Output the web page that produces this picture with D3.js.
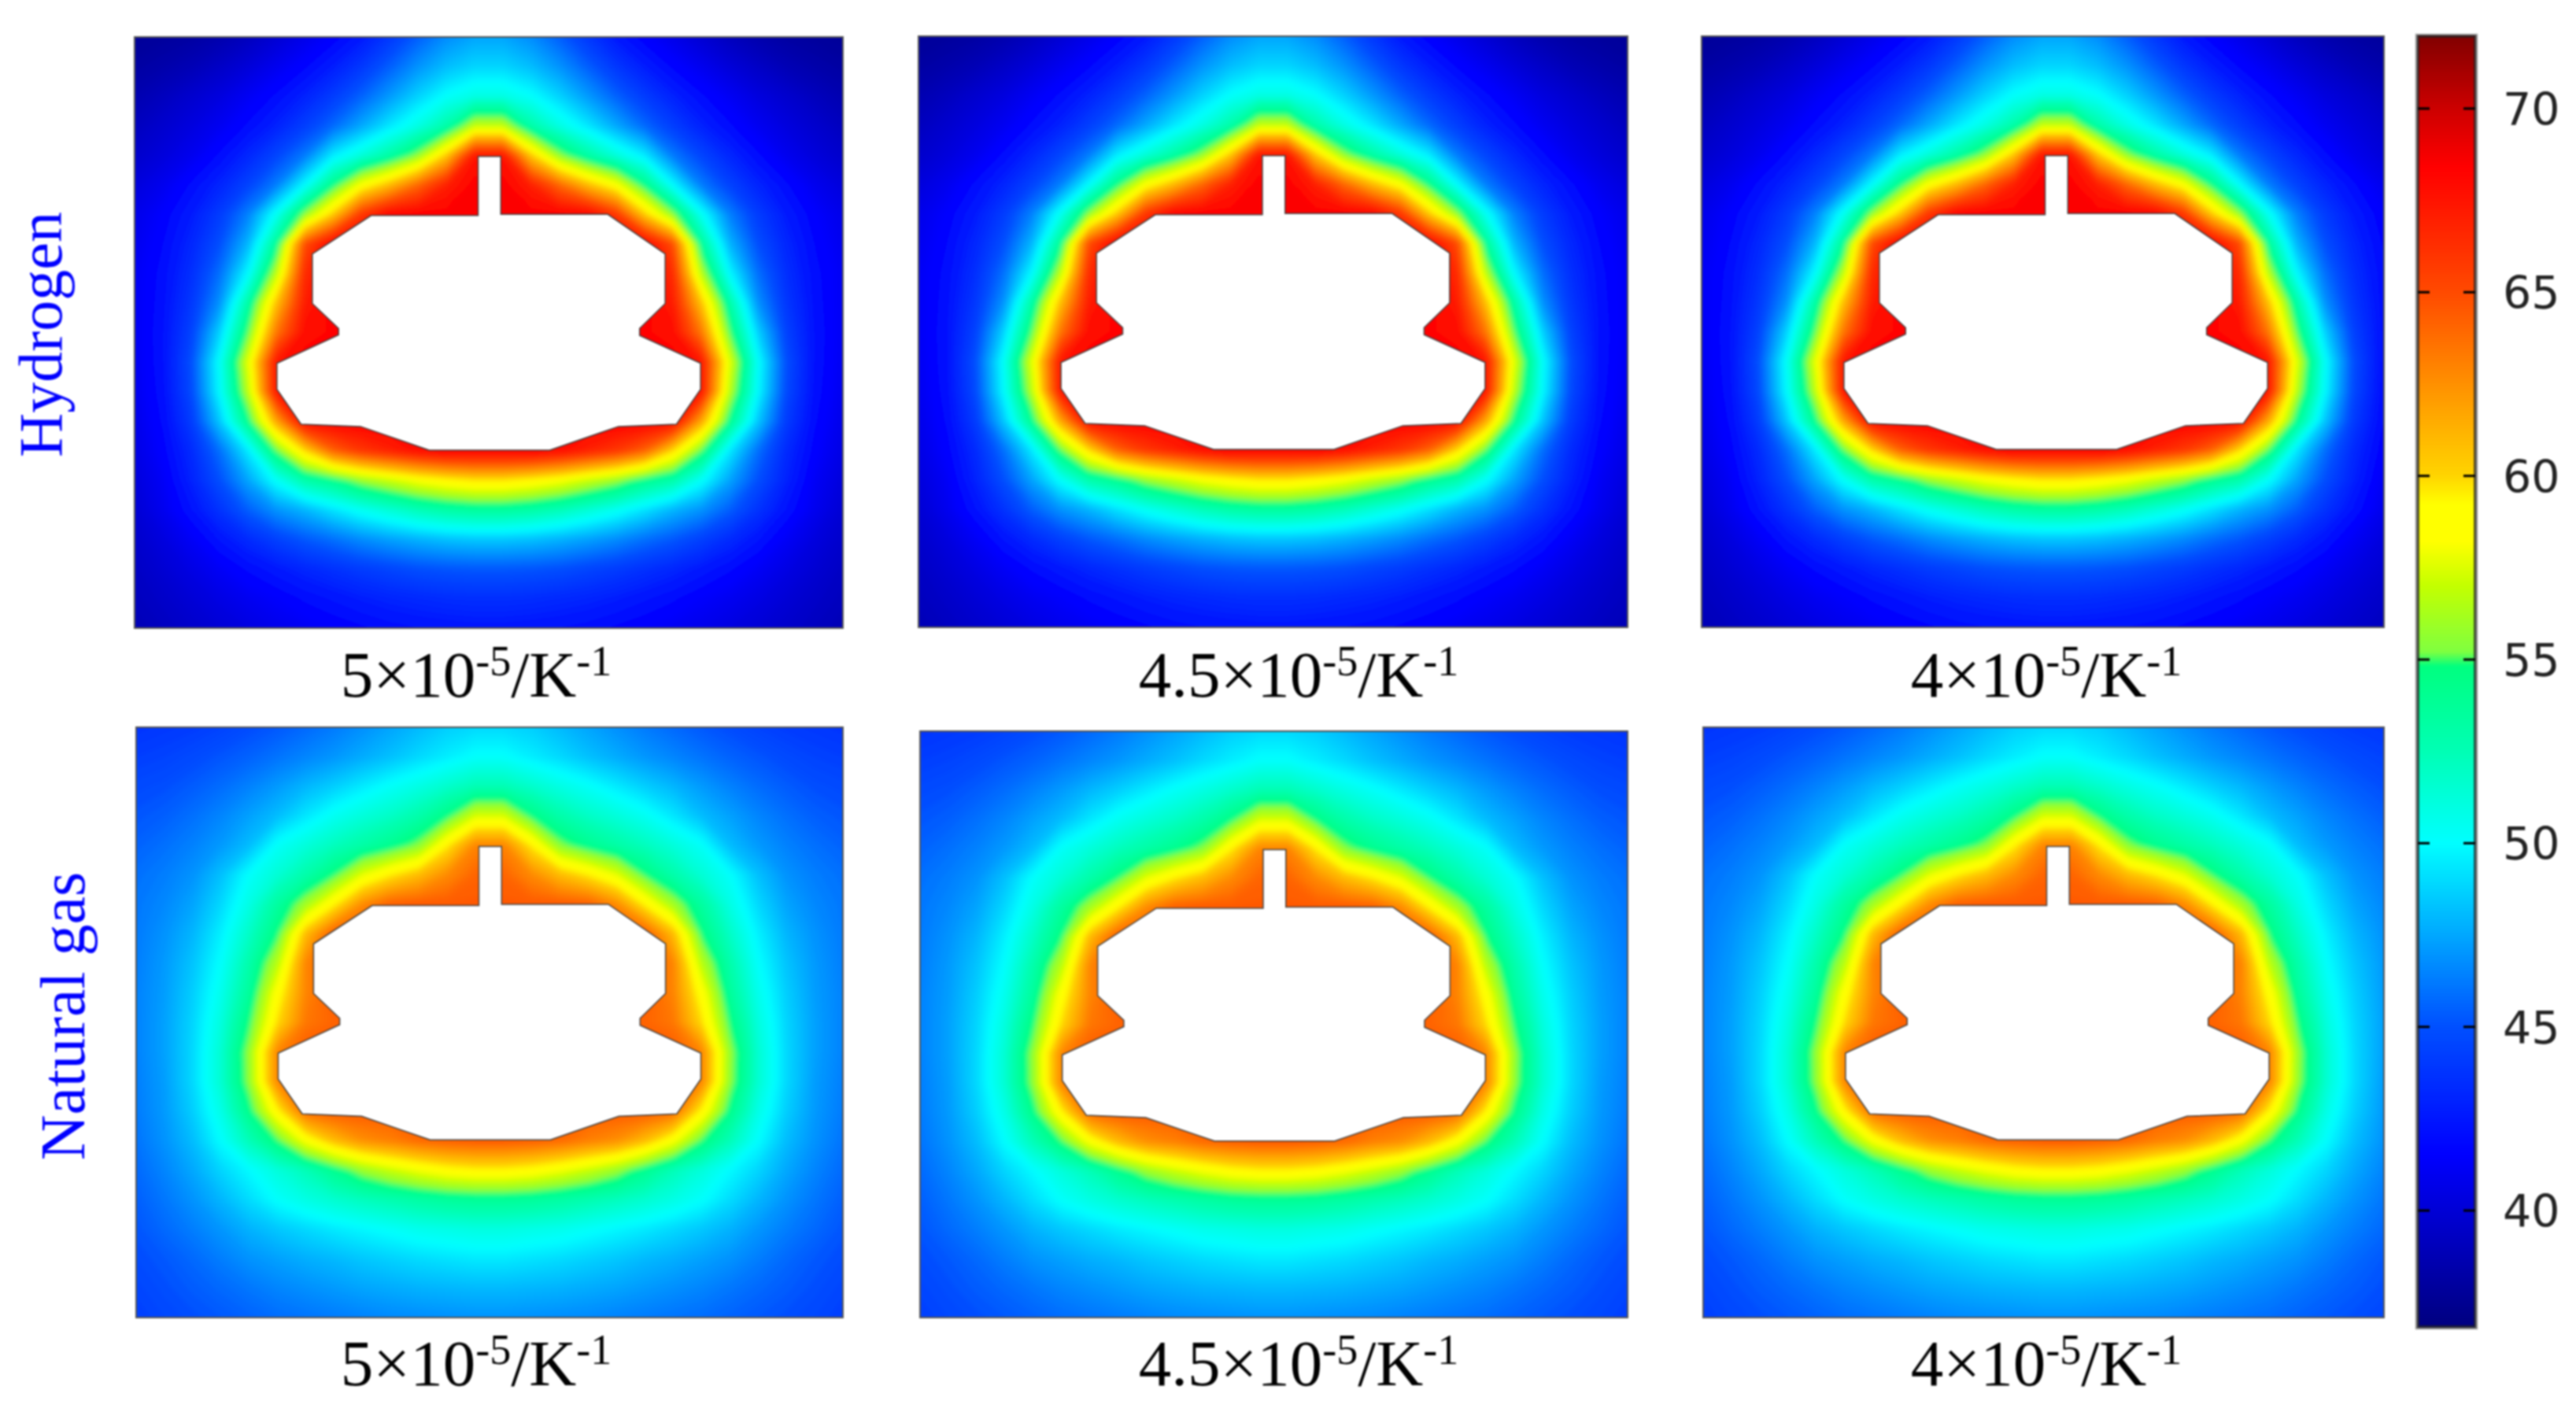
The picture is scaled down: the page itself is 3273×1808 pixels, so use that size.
<!DOCTYPE html>
<html>
<head>
<meta charset="utf-8">
<script src="https://cdn.jsdelivr.net/npm/d3@7"></script>
<style>
html, body { margin: 0; padding: 0; background: #fff; }
svg { display: block; filter: blur(0.8px); }
</style>
</head>
<body>
<div id="chart"></div>
<script>
// grid positions in percent of the panel width / height
var gridX = [0,4,8,12,16,20,24,28,32,36,40,44,48,52,56,60,64,68,72,76,80,84,88,92,96,100];
var gridY = [0,5,10,15,20,25,30,35,40,45,50,55,60,65,70,75,80,85,90,95,100];

// temperature, one row per gridY
var hydrogenField = [
[37.8,38,38.2,38.6,39.2,40,40.8,41.6,42.6,44,45.5,46.8,47.5,47.5,46.8,45.5,44,42.6,41.6,40.8,40,39.2,38.6,38.2,38,37.8],
[38.2,38.5,38.9,39.5,40.2,41,41.8,42.8,44,45.5,47,48.2,48.9,48.9,48.2,47,45.5,44,42.8,41.8,41,40.2,39.5,38.9,38.5,38.2],
[38.7,39.2,39.8,40.4,41.2,42,43,44.2,45.6,47.2,48.8,50.2,51,51,50.2,48.8,47.2,45.6,44.2,43,42,41.2,40.4,39.8,39.2,38.7],
[39.2,39.8,40.4,41.1,42,43,44.3,45.8,47.6,49.4,51,53,57,57,53,51,49.4,47.6,45.8,44.3,43,42,41.1,40.4,39.8,39.2],
[39.7,40.3,41,42,43.2,44.6,46.3,49.5,51.3,53.2,55.8,60.5,67.5,67.5,60.5,55.8,53.2,51.3,49.5,46.3,44.6,43.2,42,41,40.3,39.7],
[40.3,41,42,43.1,44.5,46.4,50,54.3,58.5,61,64,67,68.6,68.6,67,64,61,58.5,54.3,50,46.4,44.5,43.1,42,41,40.3],
[40.8,41.6,42.7,44.2,46.5,50.5,55.8,60.5,66,68.4,68.6,68.6,68.6,68.6,68.6,68.6,68.4,66,60.5,55.8,50.5,46.5,44.2,42.7,41.6,40.8],
[41,41.9,43.2,45,48,53.8,65,68.6,68.6,68.6,68.6,68.6,68.6,68.6,68.6,68.6,68.6,68.6,68.6,65,53.8,48,45,43.2,41.9,41],
[41.2,42.1,43.6,46,50,56.8,66.5,68.6,68.6,68.6,68.6,68.6,68.6,68.6,68.6,68.6,68.6,68.6,68.6,66.5,56.8,50,46,43.6,42.1,41.2],
[41.2,42.2,44,47,53.2,60.8,67.2,68.6,68.6,68.6,68.6,68.6,68.6,68.6,68.6,68.6,68.6,68.6,68.6,67.2,60.8,53.2,47,44,42.2,41.2],
[41.2,42.3,44.5,48.8,55.2,63.5,68,68.4,68.6,68.6,68.6,68.6,68.6,68.6,68.6,68.6,68.6,68.6,68.4,68,63.5,55.2,48.8,44.5,42.3,41.2],
[41.1,42.3,45,50.3,57.8,67.5,68.6,68.6,68.6,68.6,68.6,68.6,68.6,68.6,68.6,68.6,68.6,68.6,68.6,68.6,67.5,57.8,50.3,45,42.3,41.1],
[41,42.2,44.8,50,56.8,67.5,68.6,68.6,68.6,68.6,68.6,68.6,68.6,68.6,68.6,68.6,68.6,68.6,68.6,68.6,67.5,56.8,50,44.8,42.2,41],
[40.8,42,44.2,48.5,54.2,61.8,68.2,68.6,68.6,68.6,68.6,68.6,68.6,68.6,68.6,68.6,68.6,68.6,68.6,68.2,61.8,54.2,48.5,44.2,42,40.8],
[40.6,41.7,43.4,46,49.5,55.2,60,64.2,66,67,68,68.6,68.6,68.6,68.6,68,67,66,64.2,60,55.2,49.5,46,43.4,41.7,40.6],
[40.3,41.3,43,45,47.5,50.3,53,54.2,56,57.2,58.4,59.2,59.8,59.8,59.2,58.4,57.2,56,54.2,53,50.3,47.5,45,43,41.3,40.3],
[40,41,42.3,43.8,45.5,47,48,49.3,50.5,51.5,52.5,53.2,53.6,53.6,53.2,52.5,51.5,50.5,49.3,48,47,45.5,43.8,42.3,41,40],
[39.7,40.4,41.3,42.4,43.4,44.4,45.3,46,46.8,47.4,47.9,48.3,48.5,48.5,48.3,47.9,47.4,46.8,46,45.3,44.4,43.4,42.4,41.3,40.4,39.7],
[39.4,40,40.6,41.3,42,42.6,43.2,43.7,44.2,44.6,45,45.2,45.3,45.3,45.2,45,44.6,44.2,43.7,43.2,42.6,42,41.3,40.6,40,39.4],
[39.2,39.6,40.1,40.6,41.1,41.5,42,42.4,42.8,43.1,43.3,43.5,43.6,43.6,43.5,43.3,43.1,42.8,42.4,42,41.5,41.1,40.6,40.1,39.6,39.2],
[38.9,39.3,39.7,40.1,40.5,40.9,41.2,41.5,41.8,42.1,42.3,42.4,42.5,42.5,42.4,42.3,42.1,41.8,41.5,41.2,40.9,40.5,40.1,39.7,39.3,38.9]
];

// temperature
var gasField = [
[43.8,44,44.2,44.5,44.9,45.3,45.8,46.3,46.9,47.5,48.1,48.7,49,49,48.7,48.1,47.5,46.9,46.3,45.8,45.3,44.9,44.5,44.2,44,43.8],
[44.3,44.5,44.8,45.2,45.6,46.1,46.6,47.1,47.7,48.3,49,49.6,50.2,50.2,49.6,49,48.3,47.7,47.1,46.6,46.1,45.6,45.2,44.8,44.5,44.3],
[44.8,45,45.4,45.9,46.5,47.2,48,48.7,49.5,50.3,51,51.8,52.6,52.6,51.8,51,50.3,49.5,48.7,48,47.2,46.5,45.9,45.4,45,44.8],
[45.2,45.5,46,46.6,47.4,48.2,49.4,50.5,51.3,52,53,54.6,57.5,57.5,54.6,53,52,51.3,50.5,49.4,48.2,47.4,46.6,46,45.5,45.2],
[45.6,46,46.5,47.2,48.2,50.3,51.3,52.3,53.2,54.2,55.6,59.5,63,63,59.5,55.6,54.2,53.2,52.3,51.3,50.3,48.2,47.2,46.5,46,45.6],
[46,46.4,47,48.3,50.2,51.5,53,54.9,57.8,59.6,61,62.8,64.2,64.2,62.8,61,59.6,57.8,54.9,53,51.5,50.2,48.3,47,46.4,46],
[46.2,46.7,47.5,49,51,53.5,56.2,59.4,62.8,64.4,64.6,64.6,64.6,64.6,64.6,64.6,64.4,62.8,59.4,56.2,53.5,51,49,47.5,46.7,46.2],
[46.3,47,48,49.7,52,54.8,61,64.6,64.6,64.6,64.6,64.6,64.6,64.6,64.6,64.6,64.6,64.6,64.6,61,54.8,52,49.7,48,47,46.3],
[46.4,47.2,48.4,50.2,53,56.8,63,64.6,64.6,64.6,64.6,64.6,64.6,64.6,64.6,64.6,64.6,64.6,64.6,63,56.8,53,50.2,48.4,47.2,46.4],
[46.5,47.3,48.7,50.7,53.7,58.8,63,64.6,64.6,64.6,64.6,64.6,64.6,64.6,64.6,64.6,64.6,64.6,64.6,63,58.8,53.7,50.7,48.7,47.3,46.5],
[46.5,47.4,48.9,51.2,54.8,60,63.5,64.2,64.6,64.6,64.6,64.6,64.6,64.6,64.6,64.6,64.6,64.6,64.2,63.5,60,54.8,51.2,48.9,47.4,46.5],
[46.5,47.4,49,51.6,55.9,63,64.6,64.6,64.6,64.6,64.6,64.6,64.6,64.6,64.6,64.6,64.6,64.6,64.6,64.6,63,55.9,51.6,49,47.4,46.5],
[46.4,47.3,49,51.6,55.8,63,64.6,64.6,64.6,64.6,64.6,64.6,64.6,64.6,64.6,64.6,64.6,64.6,64.6,64.6,63,55.8,51.6,49,47.3,46.4],
[46.3,47.2,48.7,50.9,54.4,59.3,64,64.6,64.6,64.6,64.6,64.6,64.6,64.6,64.6,64.6,64.6,64.6,64.6,64,59.3,54.4,50.9,48.7,47.2,46.3],
[46.1,47,48.2,50.1,52.5,55,58.5,61,62.6,63.2,64,64.4,64.6,64.6,64.4,64,63.2,62.6,61,58.5,55,52.5,50.1,48.2,47,46.1],
[45.8,46.6,47.6,48.9,50,51.3,52.5,54.2,56,57.2,58.2,59,59.4,59.4,59,58.2,57.2,56,54.2,52.5,51.3,50,48.9,47.6,46.6,45.8],
[45.5,46.2,47,48,49.1,50.2,51,51.7,52.3,52.8,53.3,53.7,53.9,53.9,53.7,53.3,52.8,52.3,51.7,51,50.2,49.1,48,47,46.2,45.5],
[45.2,45.8,46.4,47.1,47.9,48.5,49,49.5,49.9,50.3,50.7,50.9,51.1,51.1,50.9,50.7,50.3,49.9,49.5,49,48.5,47.9,47.1,46.4,45.8,45.2],
[44.9,45.3,45.8,46.4,47,47.4,47.8,48.1,48.5,48.8,49.1,49.3,49.5,49.5,49.3,49.1,48.8,48.5,48.1,47.8,47.4,47,46.4,45.8,45.3,44.9],
[44.6,45,45.4,45.8,46.2,46.6,46.9,47.2,47.5,47.7,47.9,48,48.1,48.1,48,47.9,47.7,47.5,47.2,46.9,46.6,46.2,45.8,45.4,45,44.6],
[44.3,44.7,45,45.3,45.6,45.9,46.1,46.3,46.5,46.7,46.8,46.9,47,47,46.9,46.8,46.7,46.5,46.3,46.1,45.9,45.6,45.3,45,44.7,44.3]
];

// cavity outline, percent of panel
var cavityX = [48.5,51.7,51.7,66.8,74.9,74.9,71.3,71.3,79.9,79.9,76.5,68.3,58.6,41.6,31.9,23.5,20.1,20.1,28.8,28.8,25.1,25.1,33.4,48.5];
var cavityY = [20.2,20.2,30.0,30.0,36.7,45.1,49.3,50.5,55.2,59.6,65.5,65.9,69.9,69.9,65.9,65.5,59.6,55.2,50.4,49.3,45.1,36.7,30.2,30.2];

var coefLabels = ["5", "4.5", "4"];
var fuelLabels = ["Hydrogen", "Natural gas"];
var colorTicks = [40, 45, 50, 55, 60, 65, 70];

// colour map
var colorStops = [36.8,41.5,45,47.5,50,52.5,54.8,55.2,57,58.2,59.2,60,62.5,65,68.4,70,72];
var colorHex = ["#00007f","#0000ff","#0050ff","#00a8ff","#00ffff","#00ffb4","#00ff80","#80ff40","#c4ff00","#ffff00","#ffff00","#ffd400","#ff9000","#ff4a00","#ff0000","#cc0000","#800000"];

var color = d3.scaleLinear().domain(colorStops).range(colorHex).clamp(true);

var W = 3273, H = 1808;

// panel boxes in page pixels, show is the width left after the crop
var panels = [
  {field: hydrogenField, x: 171, y: 47, w: 900, h: 751, show: 900, capX: 605, capY: 885, coef: 0},
  {field: hydrogenField, x: 1167, y: 46, w: 901, h: 751, show: 901, capX: 1650, capY: 885, coef: 1},
  {field: hydrogenField, x: 2162, y: 46, w: 900, h: 751, show: 867, capX: 2600, capY: 885, coef: 2},
  {field: gasField, x: 173, y: 924, w: 898, h: 750, show: 898, capX: 605, capY: 1760, coef: 0},
  {field: gasField, x: 1169, y: 929, w: 899, h: 745, show: 899, capX: 1650, capY: 1760, coef: 1},
  {field: gasField, x: 2164, y: 924, w: 900, h: 750, show: 865, capX: 2600, capY: 1760, coef: 2}
];

var svg = d3.select("#chart").append("svg")
    .attr("width", W)
    .attr("height", H)
    .attr("viewBox", "0 0 " + W + " " + H);

var defs = svg.append("defs");
defs.append("filter").attr("id", "soft")
    .attr("filterUnits", "userSpaceOnUse")
    .attr("x", -100).attr("y", -100).attr("width", 1200).attr("height", 1000)
    .append("feGaussianBlur").attr("stdDeviation", 3);

var thresholds = d3.range(36.5, 72.01, 0.2);
var contours = d3.contours().size([gridX.length, gridY.length]).thresholds(thresholds);

panels.forEach(function(p, i) {
    var g = svg.append("g").attr("transform", "translate(" + p.x + "," + p.y + ")");

    defs.append("clipPath").attr("id", "clip" + i)
        .append("rect").attr("width", p.show).attr("height", p.h);

    var xPct = d3.scaleLinear().domain([0, 100]).range([0, p.w]);
    var yPct = d3.scaleLinear().domain([0, 100]).range([0, p.h]);
    // contour coordinates sit half a cell off the value positions
    var xCell = d3.scaleLinear().domain([0.5, gridX.length - 0.5]).range([0, p.w]);
    var yCell = d3.scaleLinear().domain([0.5, gridY.length - 0.5]).range([0, p.h]);

    var path = d3.geoPath(d3.geoTransform({
        point: function(x, y) { this.stream.point(xCell(x), yCell(y)); }
    }));

    var flat = d3.merge(p.field);
    var clipped = g.append("g").attr("clip-path", "url(#clip" + i + ")");
    clipped.append("g").attr("filter", "url(#soft)")
      .selectAll("path")
      .data(contours(flat))
      .enter().append("path")
        .attr("d", path)
        .attr("fill", function(d) { return color(d.value); });

    var outline = d3.line()
        .x(function(d) { return xPct(d[0]); })
        .y(function(d) { return yPct(d[1]); })
        .curve(d3.curveLinearClosed);

    clipped.append("path")
        .attr("d", outline(d3.zip(cavityX, cavityY)))
        .attr("fill", "#fff")
        .attr("stroke", "#444")
        .attr("stroke-width", 1.5);

    g.append("rect")
        .attr("width", p.show)
        .attr("height", p.h)
        .attr("fill", "none")
        .attr("stroke", "#555")
        .attr("stroke-width", 2);

    // caption below the panel
    var cap = svg.append("text")
        .attr("x", p.capX)
        .attr("y", p.capY)
        .attr("text-anchor", "middle")
        .style("font-family", "'Liberation Serif', serif")
        .style("font-size", "83px")
        .attr("fill", "#000");
    cap.append("tspan").text(coefLabels[p.coef] + "\u00d710");
    cap.append("tspan").attr("dy", -27).style("font-size", "54px").text("-5");
    cap.append("tspan").attr("dy", 27).text("/K");
    cap.append("tspan").attr("dy", -27).style("font-size", "54px").text("-1");
});

// row labels
var sideX = [78, 107], sideY = [425, 1291], sideSize = [78, 80];
fuelLabels.forEach(function(d, i) {
    svg.append("text")
        .attr("transform", "translate(" + sideX[i] + "," + sideY[i] + ") rotate(-90)")
        .attr("text-anchor", "middle")
        .style("font-family", "'Liberation Serif', serif")
        .style("font-size", sideSize[i] + "px")
        .attr("fill", "#0000ff")
        .text(d);
});

// colour bar
var barX = 3072, barW = 73;
var barY = d3.scaleLinear().domain([36.83, 71.97]).range([1686, 46]);
var bar = svg.append("g");
var barSteps = d3.range(36.83, 71.97, 0.05);

bar.selectAll("rect")
    .data(barSteps)
    .enter().append("rect")
    .attr("x", barX)
    .attr("width", barW)
    .attr("y", function(d) { return barY(d + 0.05) - 0.5; })
    .attr("height", function(d) { return barY(d) - barY(d + 0.05) + 1; })
    .attr("fill", function(d) { return color(d); });

bar.append("rect")
    .attr("x", barX).attr("y", barY(71.97))
    .attr("width", barW).attr("height", barY(36.83) - barY(71.97))
    .attr("fill", "none")
    .attr("stroke", "#222").attr("stroke-opacity", 0.75).attr("stroke-width", 4);

bar.append("rect")
    .attr("x", barX - 2.5).attr("y", barY(71.97) - 2.5)
    .attr("width", barW + 5).attr("height", barY(36.83) - barY(71.97) + 5)
    .attr("fill", "none")
    .attr("stroke", "#aaa").attr("stroke-width", 1.5);

colorTicks.forEach(function(t) {
    bar.append("line")
        .attr("x1", barX).attr("x2", barX + 15)
        .attr("y1", barY(t)).attr("y2", barY(t))
        .attr("stroke", "#000").attr("stroke-width", 3);
    bar.append("line")
        .attr("x1", barX + barW - 15).attr("x2", barX + barW)
        .attr("y1", barY(t)).attr("y2", barY(t))
        .attr("stroke", "#000").attr("stroke-width", 3);
    bar.append("text")
        .attr("x", 3180)
        .attr("y", barY(t) + 21)
        .style("font-family", "'DejaVu Sans', sans-serif")
        .style("font-size", "57px")
        .attr("fill", "#222")
        .text(t);
});
</script>
</body>
</html>
